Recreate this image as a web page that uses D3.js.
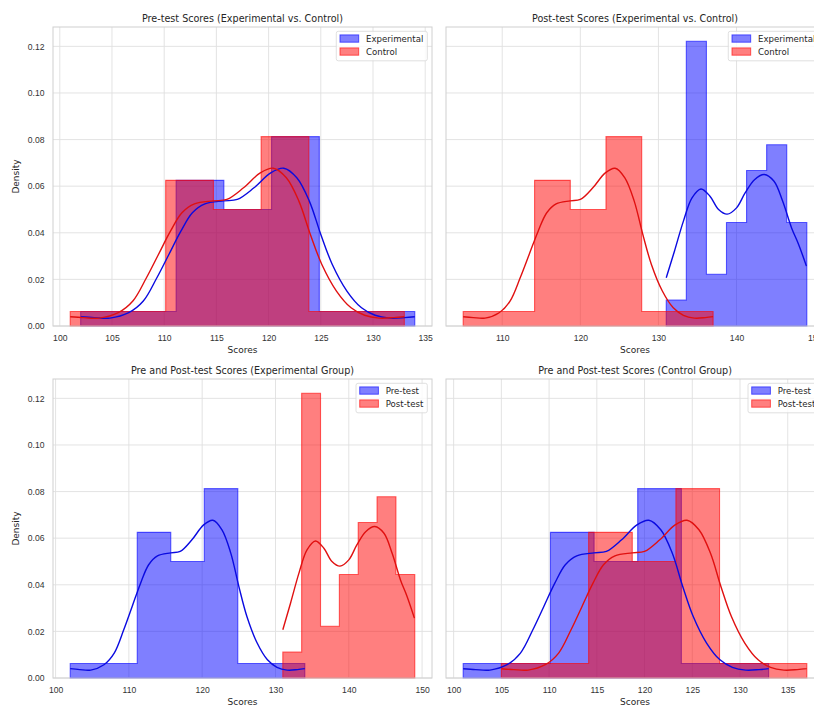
<!DOCTYPE html>
<html>
<head>
<meta charset="utf-8">
<script src="https://cdn.jsdelivr.net/npm/d3@7"></script>
<style>
  body { margin: 0; background: #fff; }
  svg { display: block; font-family: "DejaVu Sans", sans-serif; }
  .tick text { fill: #333; font-size: 8.6px; }
  .domain { display: none; }
</style>
</head>
<body>
<div id="main"></div>
<script>
// histogram bin edges and densities
const expPreEdges = [102, 106.571, 111.143, 115.714, 120.286, 124.857, 129.429, 134];
const expPreDens = [0.00625, 0.00625, 0.0625, 0.05, 0.08125, 0.00625, 0.00625];
const ctrlPreEdges = [101, 105.571, 110.143, 114.714, 119.286, 123.857, 128.429, 133];
const ctrlPreDens = [0.00625, 0.00625, 0.0625, 0.05, 0.08125, 0.00625, 0.00625];
const expPostEdges = [131, 133.571, 136.143, 138.714, 141.286, 143.857, 146.429, 149];
const expPostDens = [0.0111, 0.1222, 0.0222, 0.0444, 0.0667, 0.0778, 0.0444];
const ctrlPostEdges = [105, 109.571, 114.143, 118.714, 123.286, 127.857, 132.429, 137];
const ctrlPostDens = [0.00625, 0.00625, 0.0625, 0.05, 0.08125, 0.00625, 0.00625];

// kde curves [score, density]
const expPreKde = [[102.0,0.0040],[103.3,0.0036],[104.8,0.0034],[106.6,0.0057],[108.0,0.0107],[109.3,0.0207],[110.45,0.0307],[111.6,0.0407],[112.7,0.0486],[113.9,0.0524],[115.7,0.0537],[117.0,0.0543],[118.6,0.0593],[120.2,0.0657],[121.45,0.0677],[122.7,0.0636],[123.9,0.0536],[125.0,0.0393],[126.1,0.0264],[127.5,0.0150],[128.9,0.0078],[130.2,0.0046],[131.6,0.0034],[133.0,0.0036],[134.0,0.0040]];
const ctrlPreKde = [[101.0,0.0040],[102.3,0.0036],[103.8,0.0034],[105.6,0.0057],[107.0,0.0107],[108.3,0.0207],[109.45,0.0307],[110.6,0.0407],[111.7,0.0486],[112.9,0.0524],[114.7,0.0537],[116.0,0.0543],[117.6,0.0593],[119.2,0.0657],[120.45,0.0677],[121.7,0.0636],[122.9,0.0536],[124.0,0.0393],[125.1,0.0264],[126.5,0.0150],[127.9,0.0078],[129.2,0.0046],[130.6,0.0034],[132.0,0.0036],[133.0,0.0040]];
const ctrlPostKde = [[105.0,0.0040],[106.3,0.0036],[107.8,0.0034],[109.6,0.0057],[111.0,0.0107],[112.3,0.0207],[113.45,0.0307],[114.6,0.0407],[115.7,0.0486],[116.9,0.0524],[118.7,0.0537],[120.0,0.0543],[121.6,0.0593],[123.2,0.0657],[124.45,0.0677],[125.7,0.0636],[126.9,0.0536],[128.0,0.0393],[129.1,0.0264],[130.5,0.0150],[131.9,0.0078],[133.2,0.0046],[134.6,0.0034],[136.0,0.0036],[137.0,0.0040]];
const expPostKde = [[131.0,0.0207],[132.05,0.0321],[133.2,0.0450],[134.3,0.0550],[135.45,0.0588],[136.6,0.0557],[137.7,0.0500],[138.8,0.0480],[140.0,0.0507],[141.1,0.0571],[142.3,0.0628],[143.55,0.0650],[144.8,0.0621],[145.9,0.0536],[147.05,0.0421],[147.95,0.0350],[148.95,0.0257]];

const yTicks = [0, 0.02, 0.04, 0.06, 0.08, 0.10, 0.12];
const titles = [
  "Pre-test Scores (Experimental vs. Control)",
  "Post-test Scores (Experimental vs. Control)",
  "Pre and Post-test Scores (Experimental Group)",
  "Pre and Post-test Scores (Control Group)"
];
const xTickSteps = [5, 10, 10, 5];

const w = 814, h = 706;
const cols = [[53, 432], [446, 824]];
const rows = [[27, 326], [379, 678]];

const blue = { fill: "blue", line: "#0a0ae0" };
const red = { fill: "red", line: "#e01010" };

const panels = [
  { series: [
      { edges: expPreEdges, dens: expPreDens, kde: expPreKde, c: blue, label: "Experimental" },
      { edges: ctrlPreEdges, dens: ctrlPreDens, kde: ctrlPreKde, c: red, label: "Control" }] },
  { series: [
      { edges: expPostEdges, dens: expPostDens, kde: expPostKde, c: blue, label: "Experimental" },
      { edges: ctrlPostEdges, dens: ctrlPostDens, kde: ctrlPostKde, c: red, label: "Control" }] },
  { series: [
      { edges: expPreEdges, dens: expPreDens, kde: expPreKde, c: blue, label: "Pre-test" },
      { edges: expPostEdges, dens: expPostDens, kde: expPostKde, c: red, label: "Post-test" }] },
  { series: [
      { edges: ctrlPreEdges, dens: ctrlPreDens, kde: ctrlPreKde, c: blue, label: "Pre-test" },
      { edges: ctrlPostEdges, dens: ctrlPostDens, kde: ctrlPostKde, c: red, label: "Post-test" }] }
];

const svg = d3.select("#main").append("svg")
  .attr("width", w)
  .attr("height", h);

// shared y max like matplotlib's 5% margin
const allDens = [].concat(expPreDens, ctrlPreDens, expPostDens, ctrlPostDens);
const yMax = d3.max(allDens) * 1.05;

panels.forEach((p, i) => {
  const col = cols[i % 2], row = rows[Math.floor(i / 2)];
  const allX = [].concat(...p.series.map(s => s.edges));
  const lo = d3.min(allX), hi = d3.max(allX), pad = (hi - lo) * 0.05;

  const x = d3.scaleLinear().domain([lo - pad, hi + pad]).range(col);
  const y = d3.scaleLinear().domain([0, yMax]).range([row[1], row[0]]);

  const g = svg.append("g");

  // grid
  const xt = d3.range(Math.ceil((lo - pad) / xTickSteps[i]) * xTickSteps[i], hi + pad, xTickSteps[i]);
  g.selectAll(".vg").data(xt).enter().append("line")
    .attr("x1", d => x(d)).attr("x2", d => x(d))
    .attr("y1", row[0]).attr("y2", row[1])
    .attr("stroke", "#e0e0e0").attr("stroke-width", 0.9);
  g.selectAll(".hg").data(yTicks).enter().append("line")
    .attr("x1", col[0]).attr("x2", col[1])
    .attr("y1", d => y(d)).attr("y2", d => y(d))
    .attr("stroke", "#e0e0e0").attr("stroke-width", 0.9);

  // step histograms
  p.series.forEach(s => {
    const pts = [[s.edges[0], 0]];
    s.dens.forEach((d, k) => { pts.push([s.edges[k], d]); pts.push([s.edges[k + 1], d]); });
    pts.push([s.edges[s.edges.length - 1], 0]);
    g.append("path")
      .attr("d", d3.line().x(d => x(d[0])).y(d => y(d[1]))(pts) + "Z")
      .attr("fill", s.c.fill).attr("fill-opacity", 0.5)
      .attr("stroke", s.c.fill).attr("stroke-opacity", 0.6)
      .attr("stroke-width", 1.1);
  });

  // kde lines
  p.series.forEach(s => {
    g.append("path")
      .attr("d", d3.line().curve(d3.curveCatmullRom.alpha(0.5))
        .x(d => x(d[0])).y(d => y(d[1]))(s.kde))
      .attr("fill", "none")
      .attr("stroke", s.c.line)
      .attr("stroke-width", 1.4);
  });

  // frame
  g.append("rect")
    .attr("x", col[0]).attr("y", row[0])
    .attr("width", col[1] - col[0]).attr("height", row[1] - row[0])
    .attr("fill", "none").attr("stroke", "#d0d0d0").attr("stroke-width", 1);

  // axes
  g.append("g")
    .attr("transform", "translate(0," + row[1] + ")")
    .call(d3.axisBottom(x).tickValues(xt).tickFormat(d3.format("d")).tickSize(0).tickPadding(8.5));
  if (i % 2 === 0) {
    g.append("g")
      .attr("transform", "translate(" + col[0] + ",0)")
      .call(d3.axisLeft(y).tickValues(yTicks).tickFormat(d3.format(".2f")).tickSize(0).tickPadding(8.5));
    g.append("text")
      .attr("transform", "translate(16," + (row[0] + row[1]) / 2 + ") rotate(-90)")
      .attr("text-anchor", "middle").attr("dominant-baseline", "central")
      .attr("font-size", 9).attr("fill", "#262626")
      .text("Density");
  }

  g.append("text")
    .attr("x", (col[0] + col[1]) / 2).attr("y", row[1] + 23.5)
    .attr("text-anchor", "middle").attr("dominant-baseline", "central")
    .attr("font-size", 9).attr("fill", "#262626")
    .text("Scores");

  g.append("text")
    .attr("x", (col[0] + col[1]) / 2).attr("y", row[0] - 8.7)
    .attr("text-anchor", "middle").attr("dominant-baseline", "central")
    .attr("font-size", 9.6).attr("fill", "#262626")
    .text(titles[i]);

  // legend
  const leg = g.append("g");
  const box = leg.append("rect");
  const items = leg.selectAll(".li").data(p.series).enter().append("g");
  items.append("rect")
    .attr("x", 0).attr("y", (d, k) => 7.3 + k * 13 - 3.7)
    .attr("width", 18.7).attr("height", 7.3)
    .attr("fill", d => d.c.fill).attr("fill-opacity", 0.5)
    .attr("stroke", d => d.c.fill).attr("stroke-opacity", 0.6);
  const txt = items.append("text")
    .attr("x", 26).attr("y", (d, k) => 7.3 + k * 13)
    .attr("dominant-baseline", "central")
    .attr("font-size", 8.6).attr("fill", "#262626")
    .text(d => d.label);
  const tw = d3.max(txt.nodes(), n => n.getComputedTextLength());
  const bw = 3.7 + 26 + tw + 4;
  const bx = col[1] - 4.7 - bw, by = row[0] + 4.3;
  leg.attr("transform", "translate(" + bx + "," + by + ")");
  items.attr("transform", "translate(3.7,0)");
  box.attr("x", 0).attr("y", 0).attr("width", bw).attr("height", 29.5)
    .attr("rx", 2).attr("fill", "white").attr("fill-opacity", 0.8)
    .attr("stroke", "#d8d8d8").attr("stroke-width", 0.8);
});
</script>
</body>
</html>
